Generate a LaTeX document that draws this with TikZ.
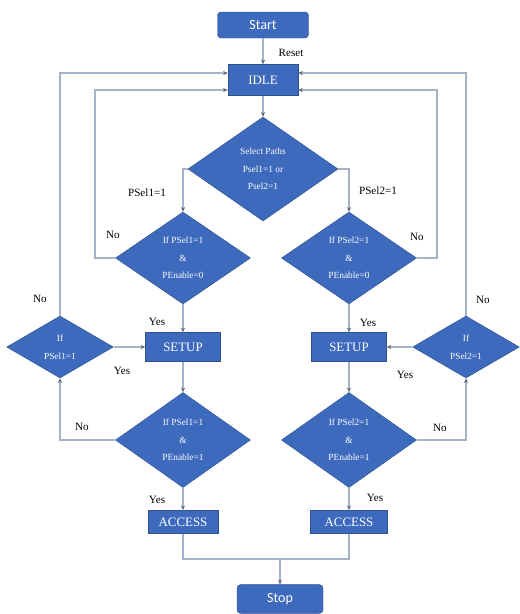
\documentclass[tikz,border=0pt]{standalone}
\usepackage{fontspec}
\setmainfont{Liberation Serif}
\newfontfamily\termfont{Carlito}
\usetikzlibrary{arrows.meta}
\usetikzlibrary{shapes.geometric}
\definecolor{fblue}{RGB}{62, 106, 190}
\definecolor{dblue}{RGB}{47, 82, 143}
\definecolor{lgray}{RGB}{165, 178, 200}
\definecolor{tipgray}{RGB}{95, 105, 125}
\tikzset{flow/.style = {draw=lgray, line width=0.9pt,
                        -{Stealth[length=4pt, width=3.5pt, color=tipgray]}},
         link/.style = {draw=lgray, line width=0.9pt},
         state/.style = {rectangle, draw=dblue, fill=fblue, text=white, inner sep=0pt,
                         font=\rmfamily\fontsize{11}{13}\selectfont},
         term/.style = {state, rounded corners=3pt, font=\termfont\fontsize{12}{14}\selectfont},
         test/.style = {diamond, draw=dblue, fill=fblue, text=white, align=center, inner sep=0pt,
                        font=\rmfamily\fontsize{8}{15}\selectfont},
         lbl/.style = {inner sep=1pt, font=\rmfamily\fontsize{9.5}{11}\selectfont}}

\begin{document}
\begin{tikzpicture}[x=0.03cm, y=-0.03cm]
    \useasboundingbox (0, 0) rectangle (519, 614);

    \node [term, minimum width=2.73cm, minimum height=0.78cm] (start) at (263, 25) {Start};
    \node [state, minimum width=2.1cm, minimum height=0.93cm] (idle) at (263, 80) {IDLE};
    \node [test, minimum width=4.5cm, minimum height=3.12cm, aspect=1.44] (sel) at (263, 169)
        {Select Paths\\Psel1=1 or\\Psel2=1};

    \node [test, minimum width=4.05cm, minimum height=2.76cm, aspect=1.47] (chk1) at (183, 258)
        {If PSel1=1\\\&\\PEnable=0};
    \node [test, minimum width=4.05cm, minimum height=2.76cm, aspect=1.47] (chk2) at (349, 258)
        {If PSel2=1\\\&\\PEnable=0};

    \node [state, minimum width=2.25cm, minimum height=0.87cm] (setup1) at (183, 347) {SETUP};
    \node [state, minimum width=2.25cm, minimum height=0.87cm] (setup2) at (349, 347) {SETUP};
    \node [test, minimum width=3.2cm, minimum height=1.86cm, aspect=1.7] (if1) at (60, 347)
        {If\\PSel1=1};
    \node [test, minimum width=3.2cm, minimum height=1.86cm, aspect=1.7] (if2) at (466, 347)
        {If\\PSel2=1};

    \node [test, minimum width=4.05cm, minimum height=2.85cm, aspect=1.47] (en1) at (183, 440)
        {If PSel1=1\\\&\\PEnable=1};
    \node [test, minimum width=4.05cm, minimum height=2.85cm, aspect=1.47] (en2) at (349, 440)
        {If PSel2=1\\\&\\PEnable=1};

    \node [state, minimum width=2.1cm, minimum height=0.7cm] (acc1) at (183, 522) {ACCESS};
    \node [state, minimum width=2.3cm, minimum height=0.7cm] (acc2) at (349, 522) {ACCESS};
    \coordinate (merge) at (280, 559);
    \node [term, minimum width=2.58cm, minimum height=0.86cm] (stop) at (280, 599) {Stop};

    \draw [flow] (start) -- (idle);
    \draw [flow] (idle) -- (sel);
    \draw [flow] (sel.west) -| (chk1.north);
    \draw [flow] (sel.east) -| (chk2.north);
    \draw [flow] (chk1.west) -| (95, 90) -- (idle.west |- 0, 90);
    \draw [flow] (chk2.east) -| (437, 90) -- (idle.east |- 0, 90);
    \draw [flow] (if1.north) |- (idle.west |- 0, 73);
    \draw [flow] (if2.north) |- (idle.east |- 0, 73);
    \draw [flow] (chk1) -- (setup1);
    \draw [flow] (chk2) -- (setup2);
    \draw [flow] (if1) -- (setup1);
    \draw [flow] (if2) -- (setup2);
    \draw [flow] (setup1) -- (en1);
    \draw [flow] (setup2) -- (en2);
    \draw [flow] (en1.west) -| (if1.south);
    \draw [flow] (en2.east) -| (if2.south);
    \draw [flow] (en1) -- (acc1);
    \draw [flow] (en2) -- (acc2);
    \draw [link] (acc1.south) |- (merge) -| (acc2.south);
    \draw [flow] (merge) -- (stop);

    \node [lbl] (reset) at (291, 53) {Reset};
    \node [lbl] (sel1) at (147, 193) {PSel1=1};
    \node [lbl] (sel2) at (378, 191) {PSel2=1};
    \node [lbl] (no1) at (113, 235) {No};
    \node [lbl] (no2) at (417, 237) {No};
    \node [lbl] (no3) at (40, 299) {No};
    \node [lbl] (no4) at (483, 300) {No};
    \node [lbl] (yes1) at (157, 322) {Yes};
    \node [lbl] (yes2) at (368, 323) {Yes};
    \node [lbl] (yes3) at (122, 371) {Yes};
    \node [lbl] (yes4) at (405, 375) {Yes};
    \node [lbl] (no5) at (82, 427) {No};
    \node [lbl] (no6) at (440, 428) {No};
    \node [lbl] (yes5) at (157, 500) {Yes};
    \node [lbl] (yes6) at (375, 498) {Yes};
\end{tikzpicture}
\end{document}
